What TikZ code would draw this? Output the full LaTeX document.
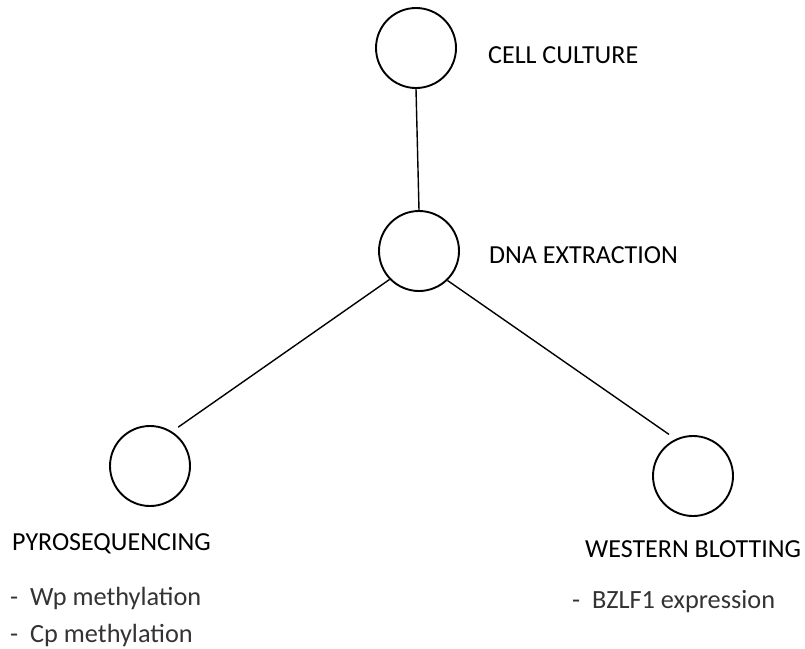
\documentclass[tikz,border=0pt]{standalone}
\usepackage{fontspec}
\setmainfont{Carlito}
\begin{document}
\begin{tikzpicture}[x=1pt,y=-1pt,
  stage/.style={circle,draw=black,line width=1.9pt,minimum size=80pt,inner sep=0pt},
  conn/.style={draw=black,line width=1.4pt},
  head/.style={anchor=base west,inner sep=0pt,font=\fontsize{26}{31}\selectfont,text=black},
  item/.style={anchor=base west,inner sep=0pt,font=\fontsize{26.3}{31}\selectfont,text=black!80}]
\useasboundingbox (0,0) rectangle (805,648);
\node[stage] (cell) at (416,48) {};
\node[stage] (dna) at (419,251) {};
\node[stage] (pyro) at (150,466) {};
\node[stage] (west) at (693,476) {};
\draw[conn] (cell.south) -- (dna.north);
\draw[conn] (dna.224) -- ([shift={(4.1,-5.7)}]pyro.54);
\draw[conn] (dna.314) -- ([shift={(-3.5,-6.1)}]west.120);
\node[head] (tcell) at (488,63) {CELL CULTURE};
\node[head] (tdna) at (489,263) {DNA EXTRACTION};
\node[head] (tpyro) at (12,550) {PYROSEQUENCING};
\node[head] (twest) at (585,557) {WESTERN BLOTTING};
\node[item] (wp) at (10,605) {\makebox[20pt][l]{-}Wp methylation};
\node[item] (cp) at (10,642) {\makebox[20pt][l]{-}Cp methylation};
\node[item] (bz) at (572,608) {\makebox[20pt][l]{-}BZLF1 expression};
\end{tikzpicture}
\end{document}
